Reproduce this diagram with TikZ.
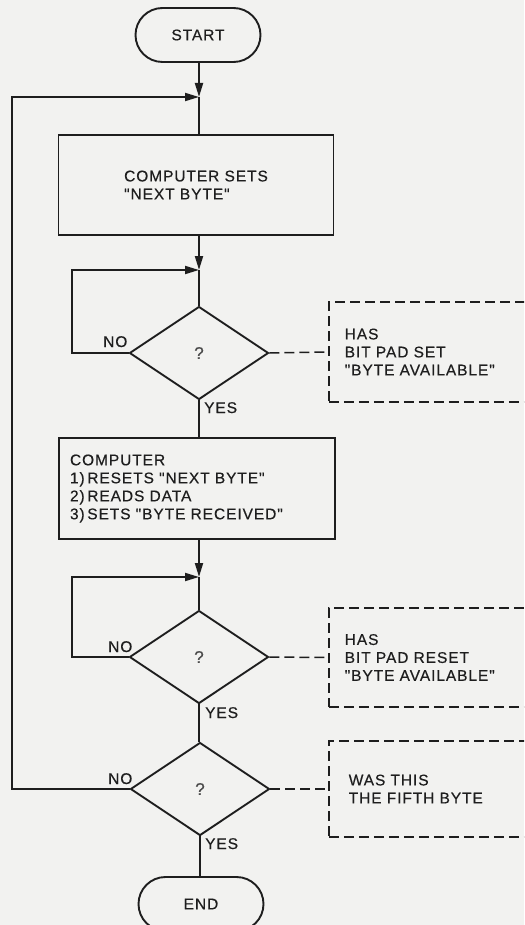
\documentclass[tikz,border=0pt]{standalone}
\usepackage{fontspec}
\newfontfamily\lbl{Liberation Sans}[LetterSpace=6,FakeBold=0.4]
\usetikzlibrary{arrows.meta,shapes.geometric,shapes.misc,calc}
\definecolor{paper}{RGB}{242,242,240}
\definecolor{ink}{RGB}{30,30,30}
\tikzset{
  every node/.style={font=\lbl\fontsize{15.5}{18}\selectfont, text=ink},
  ln/.style={draw=ink, line width=1.9pt},
  arr/.style={ln, -{Triangle[length=14pt,width=8pt]}},
  term/.style={rounded rectangle, draw=ink, line width=1.9pt, minimum width=125pt, minimum height=54pt, inner sep=0pt},
  proc/.style={rectangle, draw=ink, line width=1.9pt, inner sep=0pt},
  dec/.style={diamond, draw=ink, line width=1.9pt, aspect=1.49, minimum width=139pt, minimum height=93pt, inner sep=0pt},
  note/.style={rectangle, draw=ink, line width=1.5pt, dash pattern=on 10pt off 5pt, anchor=west, align=left, text width=226pt, inner xsep=16pt, inner ysep=0pt},
  dline/.style={draw=ink, line width=1.5pt, dash pattern=on 10pt off 5pt},
  yn/.style={anchor=base west, inner sep=0pt},
  qm/.style={font=\lbl\fontsize{17}{18}\selectfont, text=ink!80}
}
\begin{document}
\begin{tikzpicture}[x=1pt,y=-1pt]
\fill[paper] (0,0) rectangle (524,925);
\useasboundingbox (0,0) rectangle (524,925);
\clip (0,0) rectangle (524,925);

\node[term] (start) at (198,35) {START};
\coordinate (j1) at (199,97);
\node[proc, minimum width=275pt, minimum height=100pt, align=left] (b1) at (196,185) {COMPUTER SETS\\"NEXT BYTE"};
\coordinate (j2) at (199,270);
\node[dec] (d1) at (199,353) {};
\node[qm] (q1) at (d1) {?};
\node[note, minimum height=100pt] (n1) at (328,352) {HAS\\BIT PAD SET\\"BYTE AVAILABLE"};
\node[proc, minimum width=276pt, minimum height=101pt, align=left, text width=254pt, inner xsep=11pt] (b2) at (197,488.5) {COMPUTER\\1)\,RESETS "NEXT BYTE"\\2)\,READS DATA\\3)\,SETS "BYTE RECEIVED"};
\coordinate (j3) at (199,577);
\node[dec] (d2) at (199,657) {};
\node[qm] (q2) at (d2) {?};
\node[note, minimum height=99pt] (n2) at (328,657.5) {HAS\\BIT PAD RESET\\"BYTE AVAILABLE"};
\node[dec] (d3) at (200,789) {};
\node[qm] (q3) at (d3) {?};
\node[note, minimum height=96pt, inner xsep=20pt, text width=222pt] (n3) at (328,789) {WAS THIS\\THE FIFTH BYTE\\[6pt]};
\node[term] (end) at (201,904) {END};

\coordinate (o1) at (12,789);
\coordinate (i1) at (72,353);
\coordinate (i2) at (72,657);

% labels
\node[yn] (no1) at (103,347) {NO};
\node[yn] (yes1) at (204,413) {YES};
\node[yn] (no2) at (108,652) {NO};
\node[yn] (yes2) at (205,718) {YES};
\node[yn] (no3) at (108,784) {NO};
\node[yn] (yes3) at (205,849) {YES};

% connectors
\draw[arr] (start.south -| j1) -- (j1);
\draw[ln] (j1) -- (b1.north -| j1);
\draw[arr] (d3.west) -- (o1) -- (o1 |- j1) -- (j1);
\draw[arr] (b1.south -| j2) -- (j2);
\draw[ln] (j2) -- (d1.north);
\draw[arr] (d1.west) -- (i1) -- (i1 |- j2) -- (j2);
\draw[dline] (d1.east) -- (n1.west);
\draw[ln] (d1.south) -- (b2.north -| d1.south);
\draw[arr] (b2.south -| j3) -- (j3);
\draw[ln] (j3) -- (d2.north);
\draw[arr] (d2.west) -- (i2) -- (i2 |- j3) -- (j3);
\draw[dline] (d2.east) -- (n2.west);
\draw[ln] (d2.south) -- (d2.south |- d3.north);
\draw[dline] (d3.east) -- (n3.west);
\draw[ln] (d3.south) -- (d3.south |- end.north);
\end{tikzpicture}
\end{document}
